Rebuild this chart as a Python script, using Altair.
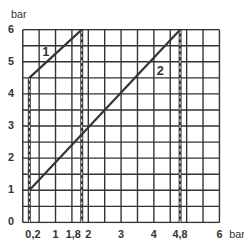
import altair as alt
import pandas as pd

# data
c1_x = [0.2, 1.8]
c1_y = [4.5, 6.0]
c2_x = [0.2, 4.8]
c2_y = [1.0, 6.0]
mark_x = [0.2, 1.8, 4.8]
mark_y0 = [0.0, 0.0, 0.0]
mark_y1 = [4.5, 6.0, 6.0]
grid_vals = [i * 0.5 for i in range(13)]
y_ticks = [0, 1, 2, 3, 4, 5, 6]
x_ticks_c = [1, 2, 3, 4, 4.8, 6]
x_texts_c = ["1", "2", "3", "4", "4,8", "6"]
curve_labels = ["1", "2"]
curve_lab_x = [0.7, 4.2]
curve_lab_y = [5.3, 4.7]

FONT = "Liberation Sans"
DARK = "#333333"

xs = alt.Scale(domain=[0, 6], nice=False, zero=False)
ys = alt.Scale(domain=[0, 6], nice=False, zero=False)


def X(f):
    return alt.X(f, scale=xs, axis=None)


def Y(f):
    return alt.Y(f, scale=ys, axis=None)


gdf = pd.DataFrame({"v": grid_vals, "lo": [0.0] * len(grid_vals), "hi": [6.0] * len(grid_vals)})
vgrid = alt.Chart(gdf).mark_rule(color=DARK, strokeWidth=1.4).encode(
    x=X("v:Q"), y=Y("lo:Q"), y2="hi:Q")
hgrid = alt.Chart(gdf).mark_rule(color=DARK, strokeWidth=1.4).encode(
    y=Y("v:Q"), x=X("lo:Q"), x2="hi:Q")

mdf = pd.DataFrame({"x": mark_x, "y0": mark_y0, "y1": mark_y1})
rule_dark = alt.Chart(mdf).mark_rule(color=DARK, strokeWidth=3).encode(
    x=X("x:Q"), y=Y("y0:Q"), y2="y1:Q")
rule_white = alt.Chart(mdf).mark_rule(color="white", strokeWidth=1, strokeDash=[3, 3]).encode(
    x=X("x:Q"), y=Y("y0:Q"), y2="y1:Q")

cdf = pd.DataFrame({
    "x": c1_x + c2_x,
    "y": c1_y + c2_y,
    "c": ["1"] * len(c1_x) + ["2"] * len(c2_x),
})
curves = alt.Chart(cdf).mark_line(color=DARK, strokeWidth=2.2).encode(
    x=X("x:Q"), y=Y("y:Q"), detail="c:N")

ldf = pd.DataFrame({"x": curve_lab_x, "y": curve_lab_y, "t": curve_labels})
clabels = alt.Chart(ldf).mark_text(font=FONT, fontSize=13, fontWeight="bold", color=DARK).encode(
    x=X("x:Q"), y=Y("y:Q"), text="t:N")

ydf = pd.DataFrame({"y": y_ticks, "t": [str(v) for v in y_ticks]})
ylabels = alt.Chart(ydf).mark_text(font=FONT, fontSize=11, fontWeight="bold", color=DARK,
                                   align="right", dx=-9).encode(
    x=alt.value(0), y=Y("y:Q"), text="t:N")

xdf = pd.DataFrame({"x": x_ticks_c, "t": x_texts_c})
xlabels = alt.Chart(xdf).mark_text(font=FONT, fontSize=11, fontWeight="bold", color=DARK,
                                   baseline="middle", dy=13).encode(
    x=X("x:Q"), y=alt.value(196), text="t:N")

xl1 = alt.Chart(pd.DataFrame({"x": [0.2], "t": ["0,2"]})).mark_text(
    font=FONT, fontSize=11, fontWeight="bold", color=DARK, align="left", dx=-4, dy=13).encode(
    x=X("x:Q"), y=alt.value(196), text="t:N")
xl2 = alt.Chart(pd.DataFrame({"x": [1.8], "t": ["1,8"]})).mark_text(
    font=FONT, fontSize=11, fontWeight="bold", color=DARK, align="right", dx=-1, dy=13).encode(
    x=X("x:Q"), y=alt.value(196), text="t:N")

unit_top = alt.Chart(pd.DataFrame({"t": ["bar"]})).mark_text(
    font=FONT, fontSize=11, color=DARK, align="left").encode(
    x=alt.value(-12), y=alt.value(-15), text="t:N")
unit_right = alt.Chart(pd.DataFrame({"t": ["bar"]})).mark_text(
    font=FONT, fontSize=11, color=DARK, align="left").encode(
    x=alt.value(210), y=alt.value(209), text="t:N")

chart = alt.layer(vgrid, hgrid, rule_dark, rule_white, curves, clabels, ylabels, xlabels, xl1, xl2,
                  unit_top, unit_right).properties(
    width=200, height=196,
    autosize=alt.AutoSizeParams(type="none"),
    padding={"left": 15, "top": 20, "right": 25, "bottom": 22},
).configure_view(stroke=None).configure(background="white")

chart.save("out.html", embed_options={"renderer": "svg", "actions": False})
